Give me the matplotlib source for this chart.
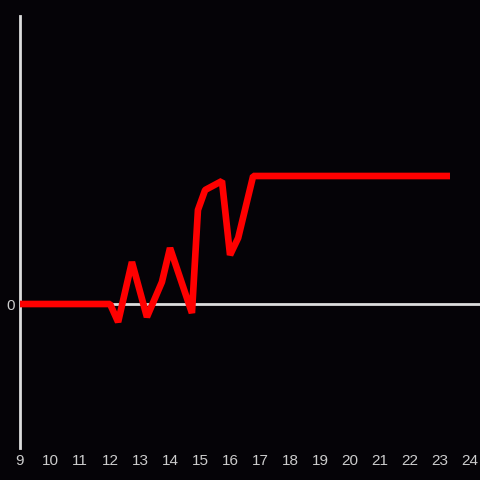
import matplotlib
matplotlib.use('Agg')
import matplotlib.pyplot as plt

# values (y in arbitrary units, 0 = baseline)
hours = [9, 12, 12.27, 12.73, 13.23, 13.73, 14.0, 14.73, 14.93, 15.17,
         15.73, 16.0, 16.27, 16.77, 23.33]
values = [0, 0, -18, 42, -13, 22, 56, -9, 94, 114,
          123, 49, 66, 128, 128]
xticks = list(range(9, 25))

bg = '#050307'
fg = '#dddddd'

fig = plt.figure(figsize=(4.8, 4.8), dpi=100, facecolor=bg)
ax = fig.add_axes([20 / 480, 32 / 480, 460 / 480, 432 / 480], facecolor=bg)

ax.plot(hours, values, color='#ff0000', lw=4.8, solid_joinstyle='bevel',
        solid_capstyle='butt', zorder=3)
ax.axhline(0, color=fg, lw=2, zorder=2)

ax.set_xlim(9, 24.33)
ax.set_ylim(-144, 288)

for s in ['top', 'right', 'bottom']:
    ax.spines[s].set_visible(False)
ax.spines['left'].set_color(fg)
ax.spines['left'].set_linewidth(2)

ax.set_xticks(xticks)
ax.set_xticklabels([str(t) for t in xticks])
ax.set_yticks([0])
ax.set_yticklabels(['0'])
ax.tick_params(axis='both', length=0, colors=fg, labelsize=11, pad=4)
for lab in ax.get_xticklabels() + ax.get_yticklabels():
    lab.set_family('Liberation Sans')
    lab.set_color('#cccccc')

fig.savefig('out.png', dpi=100, facecolor=bg)
